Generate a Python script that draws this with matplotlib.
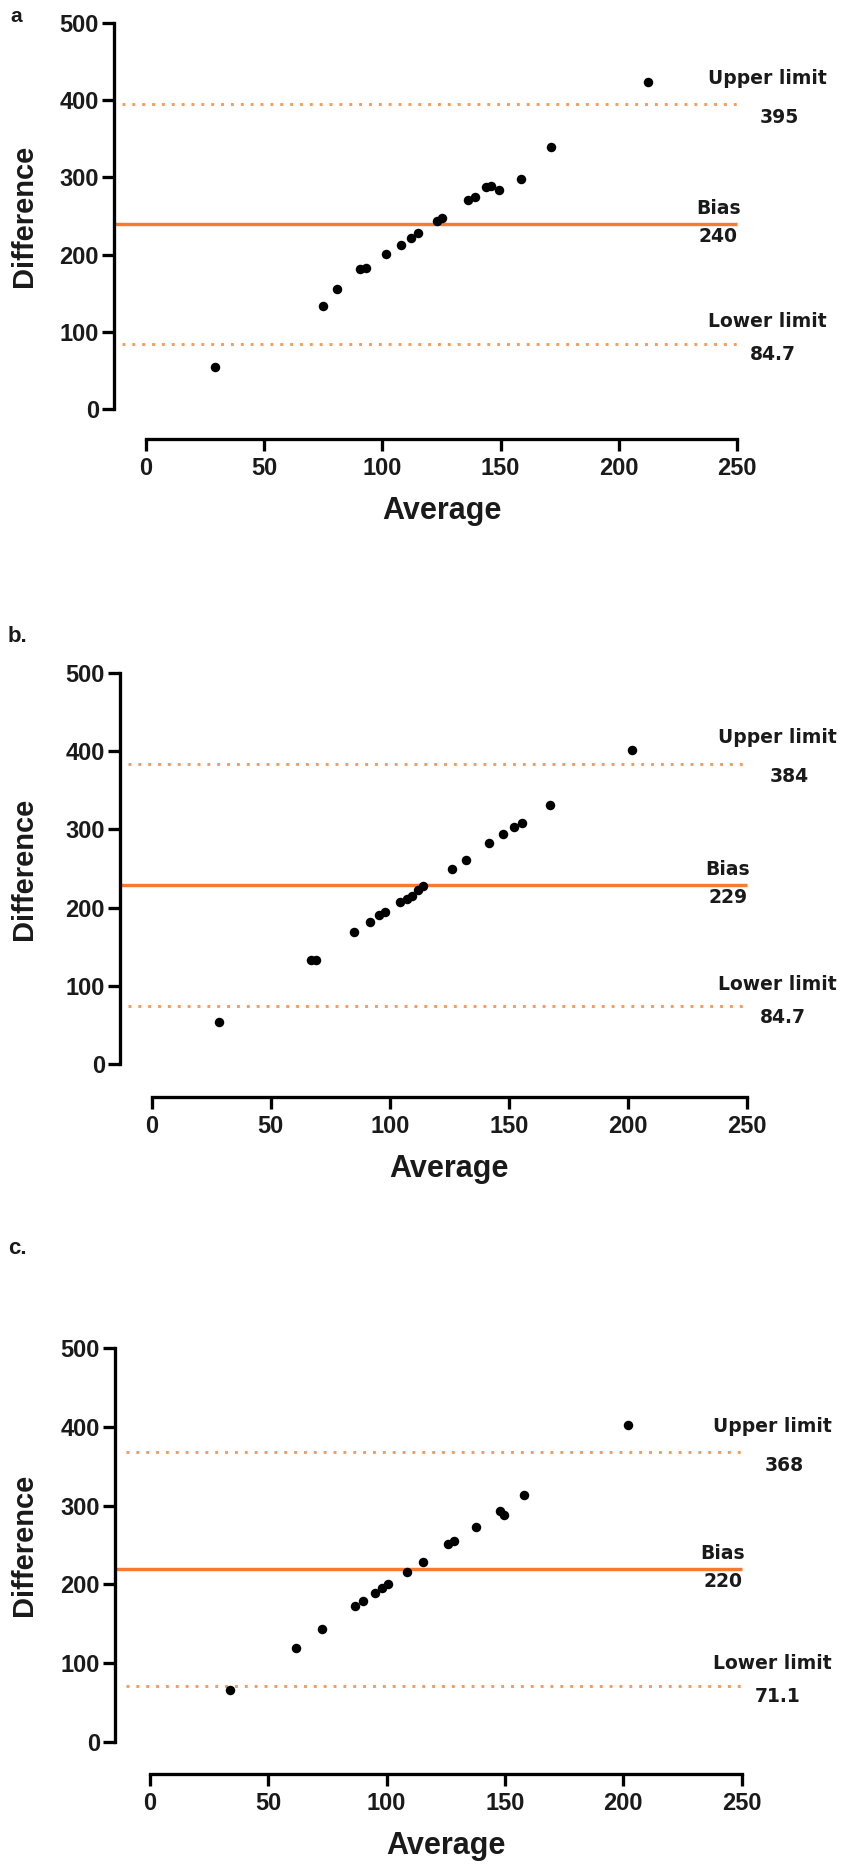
import matplotlib
matplotlib.use("Agg")
import matplotlib.pyplot as plt
import matplotlib.transforms as mtransforms

plt.rcParams['font.family'] = ['Liberation Sans', 'DejaVu Sans']

# ---------------- data ----------------
panel_letters = ["a", "b.", "c."]

a_avg = [29, 75, 81, 90.5, 93, 101.5, 108, 112, 115, 123, 125, 136, 139, 144, 146, 149.5, 158.5, 171.5, 212.5]
a_diff = [54, 133, 156, 181, 183, 201, 213, 222, 228, 244, 248, 271, 275, 287, 289, 284, 298, 340, 424]

b_avg = [28.4, 67, 69, 85, 91.7, 95.6, 98, 104.3, 107.1, 109.2, 112, 113.9, 126, 131.9, 141.9, 147.7, 152.4, 155.5, 167.4, 202]
b_diff = [54, 133, 133, 169, 182, 191, 195, 207, 211, 215, 223, 227, 250, 261, 282, 294, 303, 308, 331, 401]

c_avg = [33.8, 61.5, 72.5, 86.6, 89.9, 95, 97.9, 100.7, 108.4, 115.2, 126, 128.4, 137.6, 147.9, 149.7, 158, 202]
c_diff = [66, 119, 143.5, 172, 179, 189, 196, 201, 216, 229, 251, 255, 273, 293, 288, 314, 402]

bias_values = [240, 229, 220]
upper_values = [395, 384, 368]
lower_values = [84.7, 74, 71.1]

bias_labels = ["240", "229", "220"]
upper_labels = ["395", "384", "368"]
lower_labels = ["84.7", "84.7", "71.1"]

x_ticks = [0, 50, 100, 150, 200, 250]
y_ticks = [0, 100, 200, 300, 400, 500]
x_tick_labels = ["0", "50", "100", "150", "200", "250"]
y_tick_labels = ["0", "100", "200", "300", "400", "500"]

x_label = "Average"
y_label = "Difference"

avgs = [a_avg, b_avg, c_avg]
diffs = [a_diff, b_diff, c_diff]

# ---------------- layout (pixels) ----------------
W, H = 851, 1871
fig = plt.figure(figsize=(W / 100, H / 100), dpi=100)
fig.patch.set_facecolor("white")

def pt(p):
    return p * 72.0 / 100.0

# left(y-axis), right(x=250), top(y=500), bottom(y=0), x-axis offset, letter pos
layout = [
    dict(left=114, x0=146, right=737, top=23, bottom=409, xoff=30, letter=(10, 16)),
    dict(left=120, x0=151.7, right=746.7, top=673, bottom=1064, xoff=33, letter=(8, 636)),
    dict(left=115, x0=150, right=741.7, top=1348, bottom=1742, xoff=32, letter=(8, 1248)),
]

SPINE_W = 3.3
BIAS_C = "#F47B2F"
LIM_C = "#F59A5C"
TXT_C = "#1a1a1a"

for i, L in enumerate(layout):
    ax = fig.add_axes([L["left"] / W, 1 - L["bottom"] / H,
                       (L["right"] - L["left"]) / W, (L["bottom"] - L["top"]) / H])
    ppu = (L["right"] - L["x0"]) / 250.0
    xl = -(L["x0"] - L["left"]) / ppu
    ax.set_xlim(xl, 250)
    ax.set_ylim(0, 500)
    ax.patch.set_alpha(0)
    for s in ["top", "right"]:
        ax.spines[s].set_visible(False)
    ax.spines["left"].set_bounds(0, 500)
    ax.spines["bottom"].set_bounds(0, 250)
    ax.spines["bottom"].set_position(("outward", pt(L["xoff"])))
    for s in ["left", "bottom"]:
        ax.spines[s].set_linewidth(pt(SPINE_W))
        ax.spines[s].set_color("black")
    ax.set_xticks(x_ticks, labels=x_tick_labels, fontweight="bold")
    ax.set_yticks(y_ticks, labels=y_tick_labels, fontweight="bold")
    ax.tick_params(axis="both", length=pt(12), width=pt(SPINE_W), labelsize=17,
                   colors="black", labelcolor=TXT_C)
    ax.tick_params(axis="y", pad=pt(3))
    ax.tick_params(axis="x", pad=pt(6))

    # lines
    ax.hlines(bias_values[i], xl, 250, color=BIAS_C, lw=pt(3.4), zorder=2, clip_on=False)
    ax.hlines([upper_values[i], lower_values[i]], -10, 250, color=LIM_C, lw=pt(2.9),
              linestyles=[(0, (1, 2.4))], zorder=2, clip_on=False)

    # points
    ax.scatter(avgs[i], diffs[i], s=pt(9.5) ** 2, color="black", zorder=3,
               linewidths=0, clip_on=False)

    # annotations
    def put(xd, yd, dy, txt):
        tr = mtransforms.offset_copy(ax.transData, fig=fig, x=0, y=dy, units="dots")
        ax.text(xd, yd, txt, transform=tr, ha="center", va="center", fontsize=13.5,
                fontweight="bold", color=TXT_C, family=["DejaVu Sans"], clip_on=False)

    put(263, upper_values[i], 26, "Upper limit")
    put(268, upper_values[i], -13, upper_labels[i])
    put(242, bias_values[i], 15, "Bias")
    put(242, bias_values[i], -13, bias_labels[i])
    put(263, lower_values[i], 22, "Lower limit")
    put(265, lower_values[i], -11, lower_labels[i])

    # axis titles
    fig.text(24 / W, 1 - ((L["top"] + L["bottom"]) / 2) / H, y_label, rotation=90,
             ha="center", va="center", fontsize=21, fontweight="bold", color=TXT_C)
    fig.text((L["x0"] + 125 * ppu) / W, 1 - (L["bottom"] + L["xoff"] + 72) / H, x_label,
             ha="center", va="center", fontsize=22, fontweight="bold", color=TXT_C)

    # panel letter
    lx, ly = L["letter"]
    fig.text(lx / W, 1 - ly / H, panel_letters[i], ha="left", va="center",
             fontsize=15 if i == 0 else 16, fontweight="bold", color=TXT_C)

fig.savefig("out.png", dpi=100, facecolor="white")
